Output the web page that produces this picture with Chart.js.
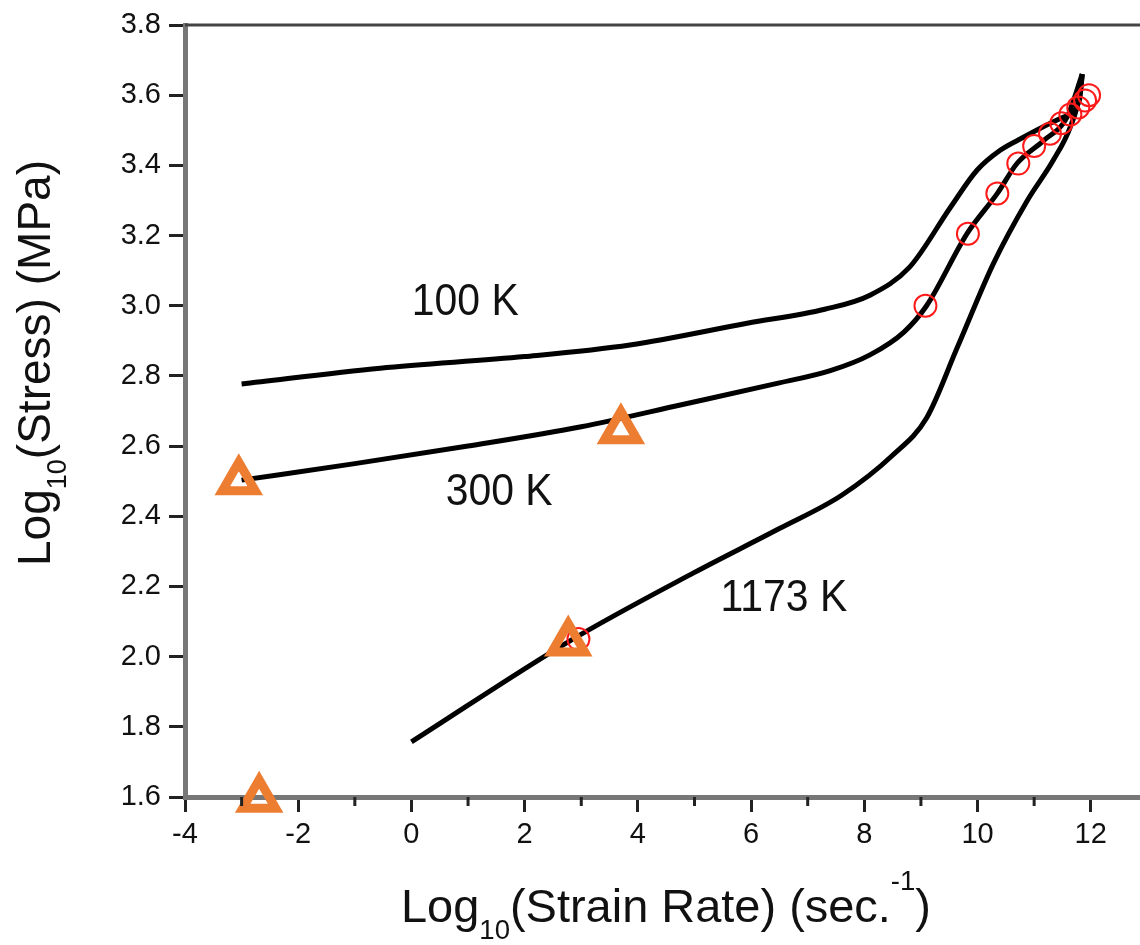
<!DOCTYPE html>
<html lang="en">
<head>
  <meta charset="UTF-8" />
  <title>Log Stress vs Log Strain Rate</title>
  <script src="https://cdn.jsdelivr.net/npm/chart.js"></script>
  <style>
    body { margin: 0; background: #fff; }
    #wrap { width: 1140px; height: 945px; position: relative; }
  </style>
</head>
<body>
  <div id="wrap"><canvas id="chart"></canvas></div>

  <script>
    // axis ticks
    const xTicks = [-4, -2, 0, 2, 4, 6, 8, 10, 12];
    const xMinorTicks = [-3, -1, 1, 3, 5, 7, 9, 11];
    const yTicks = [1.6, 1.8, 2.0, 2.2, 2.4, 2.6, 2.8, 3.0, 3.2, 3.4, 3.6, 3.8];

    // model curves
    const x100K = [-3, -0.55, 2, 3.86, 5.93, 7.3, 8.1, 8.8, 9.52, 9.99, 10.4, 10.81, 11.16, 11.51, 11.8, 11.85];
    const y100K = [2.777, 2.822, 2.855, 2.888, 2.95, 2.99, 3.03, 3.11, 3.28, 3.386, 3.443, 3.48, 3.51, 3.537, 3.586, 3.66];

    const x300K = [-3, -1, 1, 3, 4.75, 6.5, 7.4, 8.1, 8.7, 9.1, 9.82, 10.35, 10.7, 11.16, 11.58, 11.85];
    const y300K = [2.503, 2.55, 2.6, 2.655, 2.717, 2.78, 2.815, 2.86, 2.925, 3.0, 3.207, 3.32, 3.406, 3.47, 3.537, 3.66];

    const x1173K = [0, 2.8, 5, 6.5, 7.6, 8.5, 9.1, 9.64, 10.28, 10.88, 11.34, 11.64, 11.81, 11.85];
    const y1173K = [1.757, 2.045, 2.24, 2.365, 2.46, 2.574, 2.68, 2.88, 3.12, 3.3, 3.415, 3.51, 3.605, 3.66];

    // red open circles
    const circleX = [-3.05, 2.95, 9.08, 9.83, 10.35, 10.72, 11.0, 11.28, 11.48, 11.64, 11.78, 11.9, 11.97];
    const circleY = [2.5, 2.05, 3.0, 3.205, 3.32, 3.405, 3.455, 3.49, 3.52, 3.545, 3.565, 3.585, 3.6];

    // orange open triangles
    const triX = [-3.05, 3.7, 2.77, -2.69];
    const triY = [2.5, 2.645, 2.04, 1.595];

    // curve labels
    const curveNames = ['100 K', '300 K', '1173 K'];
    const curveNameX = [0.95, 1.55, 6.58];
    const curveNameY = [3.007, 2.466, 2.164];

    const toPts = (xs, ys) => xs.map((x, i) => ({ x: x, y: ys[i] }));

    const FONT = "'Liberation Sans', Arial, sans-serif";

    // draws text made of pieces: [text, size, baselineShift]
    function drawRich(ctx, pieces, x, y, targetWidth) {
      let total = 0;
      pieces.forEach(p => {
        ctx.font = p[1] + 'px ' + FONT;
        total += ctx.measureText(p[0]).width;
      });
      const sx = targetWidth / total;
      ctx.save();
      ctx.translate(x, y);
      ctx.scale(sx, 1);
      let cx = 0;
      pieces.forEach(p => {
        ctx.font = p[1] + 'px ' + FONT;
        ctx.fillText(p[0], cx, p[2]);
        cx += ctx.measureText(p[0]).width;
      });
      ctx.restore();
    }

    const extras = {
      id: 'extras',
      afterDraw(chart) {
        const ctx = chart.ctx;
        const area = chart.chartArea;
        const xs = chart.scales.x;
        const ys = chart.scales.y;

        // top frame line
        ctx.save();
        ctx.strokeStyle = '#444';
        ctx.lineWidth = 3;
        ctx.beginPath();
        ctx.moveTo(area.left, area.top);
        ctx.lineTo(chart.width, area.top);
        ctx.stroke();

        // minor ticks on x axis
        ctx.strokeStyle = '#222';
        ctx.lineWidth = 3;
        xMinorTicks.forEach(v => {
          const px = xs.getPixelForValue(v);
          ctx.beginPath();
          ctx.moveTo(px, area.bottom);
          ctx.lineTo(px, area.bottom + 9);
          ctx.stroke();
        });

        // axis titles
        ctx.fillStyle = '#111';
        ctx.textBaseline = 'alphabetic';
        ctx.textAlign = 'left';
        drawRich(ctx, [
          ['Log', 46, 0], ['10', 27, 17], ['(Strain Rate) (sec.', 46, 0], ['-1', 27, -32], [')', 46, 0]
        ], 401, 922, 530);

        ctx.save();
        ctx.translate(50, 566);
        ctx.rotate(-Math.PI / 2);
        drawRich(ctx, [
          ['Log', 46, 0], ['10', 27, 16], ['(Stress) (MPa)', 46, 0]
        ], 0, 0, 406);
        ctx.restore();

        // curve labels
        ctx.font = '44px ' + FONT;
        ctx.textAlign = 'center';
        ctx.textBaseline = 'middle';
        curveNames.forEach((t, i) => {
          ctx.save();
          ctx.translate(xs.getPixelForValue(curveNameX[i]), ys.getPixelForValue(curveNameY[i]));
          ctx.scale(0.93, 1);
          ctx.fillText(t, 0, 0);
          ctx.restore();
        });
        ctx.restore();
      }
    };

    const lineStyle = {
      showLine: true,
      borderColor: '#000',
      borderWidth: 5,
      pointRadius: 0,
      pointHoverRadius: 0,
      cubicInterpolationMode: 'monotone',
      fill: false
    };

    new Chart(document.getElementById('chart'), {
      type: 'scatter',
      data: {
        datasets: [
          {
            label: 'triangles',
            data: toPts(triX, triY),
            pointStyle: 'triangle',
            pointRadius: 19,
            pointHoverRadius: 19,
            borderColor: '#ED7D31',
            backgroundColor: 'rgba(0,0,0,0)',
            borderWidth: 9,
            clip: false
          },
          {
            label: 'circles',
            data: toPts(circleX, circleY),
            pointStyle: 'circle',
            pointRadius: 11,
            pointHoverRadius: 11,
            borderColor: '#ff1a1a',
            backgroundColor: 'rgba(0,0,0,0)',
            borderWidth: 2
          },
          Object.assign({ label: '100 K', data: toPts(x100K, y100K) }, lineStyle),
          Object.assign({ label: '300 K', data: toPts(x300K, y300K) }, lineStyle),
          Object.assign({ label: '1173 K', data: toPts(x1173K, y1173K) }, lineStyle)
        ]
      },
      options: {
        responsive: true,
        maintainAspectRatio: false,
        animation: false,
        layout: { autoPadding: false, padding: { top: 25, right: 0, left: 0, bottom: 0 } },
        plugins: {
          legend: { display: false },
          tooltip: { enabled: false }
        },
        scales: {
          x: {
            type: 'linear',
            min: -4,
            max: 12.87,
            afterBuildTicks: s => { s.ticks = xTicks.map(v => ({ value: v })); },
            afterFit: s => { s.height = 148; s.paddingLeft = 0; s.paddingRight = 0; },
            ticks: {
              color: '#111',
              font: { family: FONT, size: 29 },
              padding: 6,
              maxRotation: 0,
              autoSkip: false
            },
            grid: {
              drawOnChartArea: false,
              tickLength: 15,
              tickColor: '#222',
              tickWidth: 3
            },
            border: { color: '#777', width: 5 }
          },
          y: {
            type: 'linear',
            min: 1.6,
            max: 3.8,
            afterBuildTicks: s => { s.ticks = yTicks.map(v => ({ value: v })); },
            afterFit: s => { s.width = 185; s.paddingTop = 0; s.paddingBottom = 0; },
            ticks: {
              color: '#111',
              font: { family: FONT, size: 29 },
              padding: 8,
              autoSkip: false,
              callback: v => Number(v).toFixed(1)
            },
            grid: {
              drawOnChartArea: false,
              tickLength: 16,
              tickColor: '#222',
              tickWidth: 3
            },
            border: { color: '#777', width: 5 }
          }
        }
      },
      plugins: [extras]
    });
  </script>
</body>
</html>
